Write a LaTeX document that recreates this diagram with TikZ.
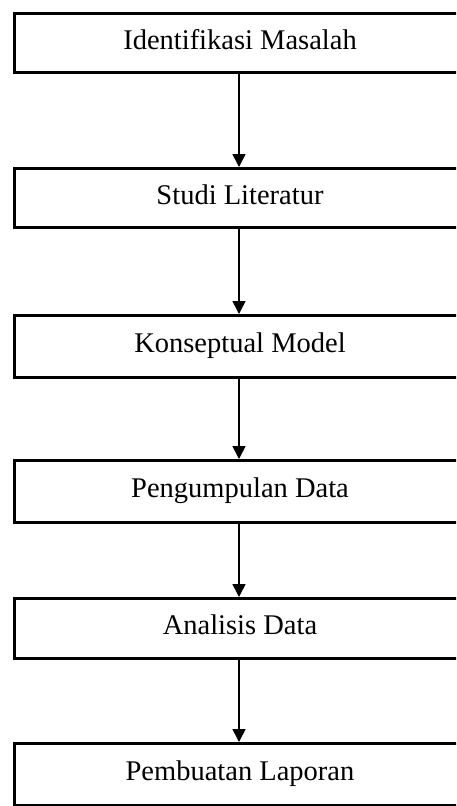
\documentclass[tikz,border=0pt]{standalone}
\usepackage{fontspec}
\setmainfont{Liberation Serif}
\usetikzlibrary{arrows.meta}
\tikzset{
  stepbox/.style={draw=black, line width=3pt, rectangle, minimum width=452pt,
    inner sep=0pt, text height=20pt, text depth=8pt,
    font=\fontsize{28.5}{34}\selectfont},
  flow/.style={draw=black, line width=1.6pt, -{Triangle[length=13pt,width=13pt]}}
}
\begin{document}
\begin{tikzpicture}[x=1pt,y=-1pt]
\useasboundingbox (0,0) rectangle (456,806);
\clip (0,0) rectangle (456,806);
\fill[white] (0,0) rectangle (456,806);
\node[stepbox, minimum height=59pt] (b1) at (240,43) {Identifikasi Masalah};
\node[stepbox, minimum height=59pt] (b2) at (240,198) {Studi Literatur};
\node[stepbox, minimum height=62pt] (b3) at (240,346.5) {Konseptual Model};
\node[stepbox, minimum height=62pt] (b4) at (240,491.5) {Pengumpulan Data};
\node[stepbox, minimum height=60pt] (b5) at (240,628.5) {Analisis Data};
\node[stepbox, minimum height=62pt] (b6) at (240,774.5) {Pembuatan Laporan};
\coordinate (a1) at (239,0);
\draw[flow] (b1.south -| a1) -- (b2.north -| a1);
\draw[flow] (b2.south -| a1) -- (b3.north -| a1);
\draw[flow] (b3.south -| a1) -- (b4.north -| a1);
\draw[flow] (b4.south -| a1) -- (b5.north -| a1);
\draw[flow] (b5.south -| a1) -- (b6.north -| a1);
\end{tikzpicture}
\end{document}
